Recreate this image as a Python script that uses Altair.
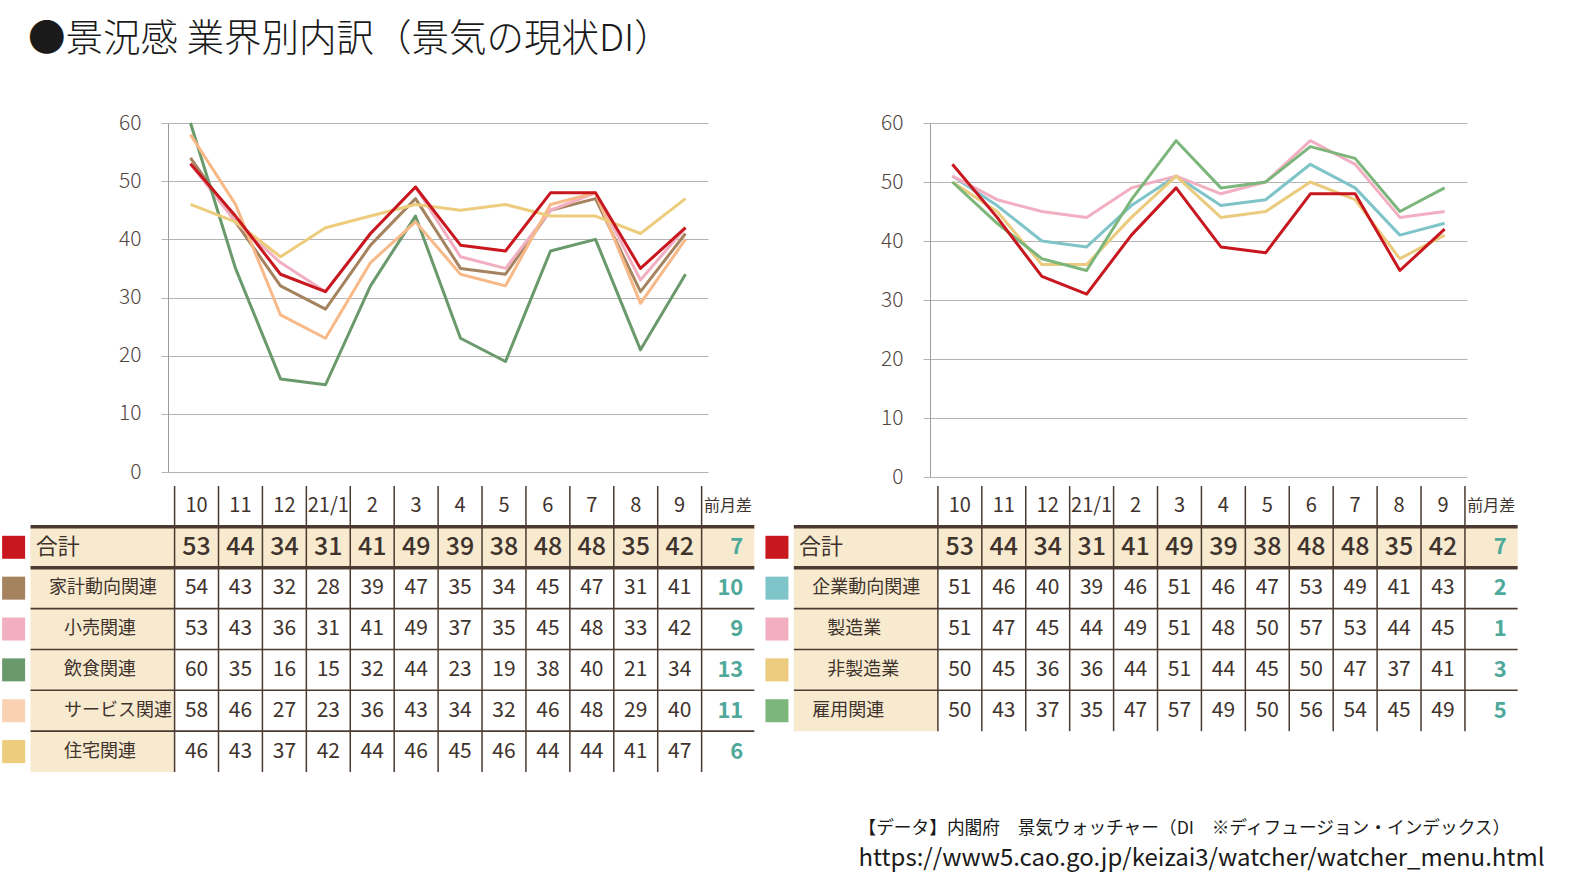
import altair as alt
import pandas as pd

# ---- data -------------------------------------------------------------
months = ["10", "11", "12", "21/1", "2", "3", "4", "5", "6", "7", "8", "9"]

# household-activity side
left_names = ["合計", "家計動向関連", "小売関連", "飲食関連", "サービス関連", "住宅関連"]
left_levels = [0, 1, 2, 2, 2, 2]
total_di = [53, 44, 34, 31, 41, 49, 39, 38, 48, 48, 35, 42]
kakei_di = [54, 43, 32, 28, 39, 47, 35, 34, 45, 47, 31, 41]
kouri_di = [53, 43, 36, 31, 41, 49, 37, 35, 45, 48, 33, 42]
inshoku_di = [60, 35, 16, 15, 32, 44, 23, 19, 38, 40, 21, 34]
service_di = [58, 46, 27, 23, 36, 43, 34, 32, 46, 48, 29, 40]
jutaku_di = [46, 43, 37, 42, 44, 46, 45, 46, 44, 44, 41, 47]
left_diff = [7, 10, 9, 13, 11, 6]

# corporate / employment side
right_names = ["合計", "企業動向関連", "製造業", "非製造業", "雇用関連"]
right_levels = [0, 1, 2, 2, 1]
kigyo_di = [51, 46, 40, 39, 46, 51, 46, 47, 53, 49, 41, 43]
seizo_di = [51, 47, 45, 44, 49, 51, 48, 50, 57, 53, 44, 45]
hiseizo_di = [50, 45, 36, 36, 44, 51, 44, 45, 50, 47, 37, 41]
koyo_di = [50, 43, 37, 35, 47, 57, 49, 50, 56, 54, 45, 49]
right_diff = [7, 2, 1, 3, 5]

left_series = [total_di, kakei_di, kouri_di, inshoku_di, service_di, jutaku_di]
right_series = [total_di, kigyo_di, seizo_di, hiseizo_di, koyo_di]

title_text = "●景況感 業界別内訳（景気の現状DI）"
source_text = "【データ】内閣府　景気ウォッチャー（DI　※ディフュージョン・インデックス）"
source_url = "https://www5.cao.go.jp/keizai3/watcher/watcher_menu.html"

# ---- styles -----------------------------------------------------------
FONT = "Noto Sans CJK JP"
INK = "#3F332D"
RULE = "#4A3A31"
BEIGE = "#F7EACF"
TEAL = "#4FA99B"
GRID = "#B4B4B4"
AXIS_LABEL = "#52463F"

left_line_colors = ["#C8171E", "#A5835F", "#F1AFC1", "#6A9A6B", "#F8B988", "#EDCC7D"]
left_swatch_colors = ["#C8171E", "#A5835F", "#F1AFC1", "#6A9A6B", "#FBD1B3", "#EDCC7D"]
right_line_colors = ["#C8171E", "#7FC4C9", "#F1AFC1", "#EBCB7E", "#7DB67B"]
right_swatch_colors = ["#C8171E", "#7FC4C9", "#F1AFC1", "#EBCB7E", "#7DB67B"]

# table geometry, in units of one month column
COL_PX = 43.92
ROW_PX = 40.86
LABEL_W = 3.28
DIFF_W = 1.2
SWATCH_X = -3.665
SWATCH_SIZE = 23 * 23
INDENT = {0: 0.12, 1: 0.42, 2: 0.76}


def line_panel(names, series, colors, width, height):
    recs = [
        {"name": name, "month": m, "di": v}
        for name, vals in zip(names, series)
        for m, v in zip(months, vals)
    ]
    df = pd.DataFrame(recs)
    enc = dict(
        x=alt.X("month:N", sort=months,
                scale=alt.Scale(type="point", domain=months, padding=0.5), axis=None),
        y=alt.Y("di:Q", scale=alt.Scale(domain=[0, 60], nice=False, zero=True),
                axis=alt.Axis(values=[0, 10, 20, 30, 40, 50, 60], title=None, grid=True,
                              gridColor=GRID, gridWidth=1, domainColor="#9C9C9C", domainWidth=1,
                              tickColor=GRID, tickSize=7, tickWidth=1, labelFontSize=21,
                              labelColor=AXIS_LABEL, labelPadding=20, labelFont=FONT,
                              labelFontWeight=300)),
        color=alt.Color("name:N", scale=alt.Scale(domain=names, range=colors), legend=None),
    )
    base = alt.Chart(df).mark_line(strokeWidth=3, strokeJoin="round").encode(**enc)
    rest = base.transform_filter(alt.datum.name != names[0])
    total = base.transform_filter(alt.datum.name == names[0])
    return alt.layer(rest, total).properties(width=width, height=height)


def table_panel(names, levels, series, diffs, swatches, lead):
    n = len(names) + 1
    right_edge = 12 + DIFF_W
    xs = alt.Scale(domain=[-lead, right_edge], nice=False, zero=False)
    ys = alt.Scale(domain=[0, n], nice=False, zero=False, reverse=True)

    def xq(f):
        return alt.X(f"{f}:Q", scale=xs, axis=None)

    def yq(f):
        return alt.Y(f"{f}:Q", scale=ys, axis=None)

    rows_y = [i + 1.5 for i in range(len(names))]

    bg = pd.DataFrame({"x": [-LABEL_W, -LABEL_W], "x2": [0, right_edge], "y": [1, 1], "y2": [n, 2]})
    bg_layer = alt.Chart(bg).mark_rect(color=BEIGE).encode(x=xq("x"), x2="x2", y=yq("y"), y2="y2")

    vl = pd.DataFrame({"x": list(range(13)), "y": 0, "y2": n})
    v_layer = alt.Chart(vl).mark_rule(color=RULE, strokeWidth=1.5).encode(x=xq("x"), y=yq("y"), y2="y2")

    thick = pd.DataFrame({"y": [1, 2], "x": -LABEL_W, "x2": right_edge})
    thick_layer = alt.Chart(thick).mark_rule(color=RULE, strokeWidth=3.5).encode(
        y=yq("y"), x=xq("x"), x2="x2")
    thin = pd.DataFrame({"y": list(range(3, n)), "x": -LABEL_W, "x2": right_edge})
    thin_layer = alt.Chart(thin).mark_rule(color=RULE, strokeWidth=1.6).encode(
        y=yq("y"), x=xq("x"), x2="x2")

    sw = pd.DataFrame({"x": SWATCH_X, "y": rows_y, "name": names})
    sw_layer = alt.Chart(sw).mark_square(size=SWATCH_SIZE, opacity=1).encode(
        x=xq("x"), y=yq("y"),
        fill=alt.Fill("name:N", scale=alt.Scale(domain=names, range=swatches), legend=None))

    labs = pd.DataFrame({"x": [-LABEL_W + INDENT[lv] for lv in levels], "y": rows_y,
                         "name": names, "top": [i == 0 for i in range(len(names))]})
    lab_total = alt.Chart(labs).transform_filter("datum.top").mark_text(
        align="left", baseline="middle", fontSize=22, color=INK, font=FONT).encode(
        x=xq("x"), y=yq("y"), text="name:N")
    lab_body = alt.Chart(labs).transform_filter("!datum.top").mark_text(
        align="left", baseline="middle", fontSize=18, color=INK, font=FONT).encode(
        x=xq("x"), y=yq("y"), text="name:N")

    head = pd.DataFrame({"x": [j + 0.5 for j in range(12)], "y": 0.5, "t": months})
    head_layer = alt.Chart(head).mark_text(
        align="center", baseline="middle", fontSize=20, color=INK, font=FONT).encode(
        x=xq("x"), y=yq("y"), text="t:N")
    hd = pd.DataFrame({"x": [12 + DIFF_W / 2], "y": [0.5], "t": ["前月差"]})
    hd_layer = alt.Chart(hd).mark_text(
        align="center", baseline="middle", fontSize=16, color=INK, font=FONT).encode(
        x=xq("x"), y=yq("y"), text="t:N")

    cells = pd.DataFrame([
        {"x": j + 0.5, "y": i + 1.5, "v": v, "top": i == 0}
        for i, vals in enumerate(series) for j, v in enumerate(vals)
    ])
    cell_total = alt.Chart(cells).transform_filter("datum.top").mark_text(
        align="center", baseline="middle", fontSize=25, fontWeight=500, color=INK, font=FONT).encode(
        x=xq("x"), y=yq("y"), text="v:Q")
    cell_body = alt.Chart(cells).transform_filter("!datum.top").mark_text(
        align="center", baseline="middle", fontSize=21, color=INK, font=FONT).encode(
        x=xq("x"), y=yq("y"), text="v:Q")

    dd = pd.DataFrame({"x": right_edge - 0.25, "y": rows_y, "v": diffs})
    diff_layer = alt.Chart(dd).mark_text(
        align="right", baseline="middle", fontSize=22, fontWeight="bold", color=TEAL, font=FONT).encode(
        x=xq("x"), y=yq("y"), text="v:Q")

    width = (right_edge + lead) * COL_PX
    return alt.layer(
        bg_layer, v_layer, thick_layer, thin_layer, sw_layer, lab_total, lab_body,
        head_layer, hd_layer, cell_total, cell_body, diff_layer,
    ).properties(width=width, height=n * ROW_PX)


left = alt.vconcat(
    line_panel(left_names, left_series, left_line_colors, 540, 349),
    table_panel(left_names, left_levels, left_series, left_diff, left_swatch_colors, 0.15),
    spacing=14, bounds="flush",
)

right = alt.vconcat(
    line_panel(right_names, right_series, right_line_colors, 537, 354),
    table_panel(right_names, right_levels, right_series, right_diff, right_swatch_colors, 0.18),
    spacing=9, bounds="flush",
).properties(title=alt.TitleParams(
    source_text, subtitle=source_url, orient="bottom", anchor="start", frame="bounds",
    dx=93, offset=88, font=FONT, fontSize=17.7, fontWeight="normal", color="#1A1A1A",
    subtitleFont=FONT, subtitleFontSize=24, subtitleColor="#1A1A1A", subtitlePadding=9,
))

chart = alt.hconcat(left, right, spacing=8).resolve_scale(
    color="independent", fill="independent"
).properties(
    title=alt.TitleParams(title_text, anchor="start", frame="bounds", dx=26, offset=54,
                          font=FONT, fontSize=37.5, fontWeight=300, color="#1A1A1A"),
    padding={"left": 2, "top": 20, "right": 0, "bottom": 10},
    background="white",
).configure_view(stroke=None)

chart.save("out.html", embed_options={"renderer": "svg", "actions": False})
